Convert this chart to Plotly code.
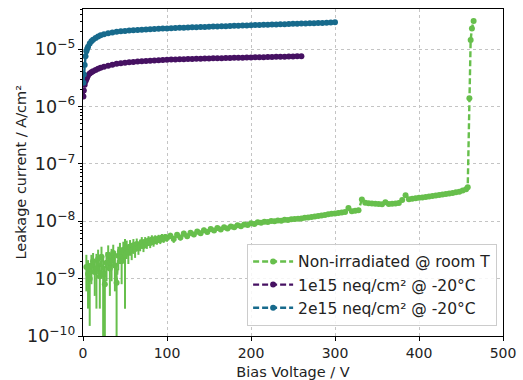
import plotly.graph_objects as go

# ---------------- data ----------------
# Non-irradiated @ room T
green_v = [4, 6, 8, 10, 12, 14, 16, 18, 20, 22, 24, 26, 28, 30, 32, 34, 36, 38, 40, 42,
           44, 46, 48, 50, 52, 54, 56, 58, 60, 62, 64, 66, 68, 70, 72, 74, 76, 78, 80, 82,
           84, 86, 88, 90, 92, 94, 96, 98, 100,
           104, 108, 112, 116, 120, 124, 128, 132, 136, 140, 144, 148, 152, 156, 160, 164,
           168, 172, 176, 180, 184, 188, 192, 196, 200, 204, 208, 212, 216, 220, 224, 228,
           232, 236, 240, 244, 248, 252, 256, 260, 264, 268, 272, 276, 280, 284, 288, 292,
           296, 300, 304, 308, 312, 316, 320, 324, 328, 332, 336, 340, 344, 348, 352, 356,
           360, 364, 368, 372, 376, 380, 384, 388, 392, 396, 400, 404, 408, 412, 416, 420,
           424, 428, 432, 436, 440, 444, 448, 452, 456, 458, 460, 461.5, 463, 465]
green_i = [1.6e-9, 1.2e-9, 1.0e-9, 1.7e-9, 2.0e-9, 1.3e-9, 1.5e-9, 2.2e-9, 1.1e-9, 2.4e-9,
           1.2e-9, 0.8e-9, 1.9e-9, 2.6e-9, 1.5e-9, 2.1e-9, 2.8e-9, 1.7e-9, 0.85e-9, 2.5e-9,
           3.0e-9, 2.0e-9, 3.2e-9, 2.6e-9, 3.4e-9, 2.9e-9, 3.6e-9, 3.1e-9, 3.8e-9, 3.3e-9,
           4.0e-9, 3.5e-9, 3.9e-9, 4.3e-9, 3.7e-9, 4.4e-9, 4.1e-9, 4.6e-9, 4.2e-9, 4.8e-9,
           4.4e-9, 4.9e-9, 4.6e-9, 5.0e-9, 4.7e-9, 5.2e-9, 4.9e-9, 5.3e-9, 5.1e-9,
           5.6e-9, 4.9e-9, 5.8e-9, 5.2e-9, 6.1e-9, 5.5e-9, 6.3e-9, 5.9e-9, 6.6e-9, 6.2e-9,
           7.0e-9, 6.5e-9, 7.3e-9, 6.9e-9, 7.6e-9, 7.2e-9, 7.9e-9, 7.5e-9, 8.1e-9, 7.9e-9,
           8.5e-9, 8.2e-9, 8.8e-9, 8.6e-9, 9.2e-9, 9.0e-9, 9.6e-9, 9.4e-9, 9.8e-9, 9.7e-9,
           10.1e-9, 10.0e-9, 10.3e-9, 10.2e-9, 10.6e-9, 10.5e-9, 10.8e-9, 10.9e-9, 11.1e-9,
           11.2e-9, 11.5e-9, 11.6e-9, 11.9e-9, 12.1e-9, 12.4e-9, 12.6e-9, 12.9e-9, 13.2e-9,
           13.5e-9, 13.7e-9, 14.0e-9, 14.2e-9, 14.5e-9, 17.0e-9, 14.9e-9, 15.2e-9, 15.5e-9,
           24.0e-9, 21.0e-9, 20.6e-9, 20.3e-9, 20.1e-9, 19.9e-9, 19.7e-9, 21.5e-9, 19.9e-9,
           20.2e-9, 20.5e-9, 20.9e-9, 23.5e-9, 28.5e-9, 24.3e-9, 24.8e-9, 25.2e-9, 25.6e-9,
           26.0e-9, 26.5e-9, 26.9e-9, 27.5e-9, 28.0e-9, 28.6e-9, 29.2e-9, 29.8e-9, 30.5e-9,
           31.2e-9, 32.0e-9, 32.8e-9, 34.5e-9, 36.0e-9, 39.0e-9, 1.4e-6, 1.45e-5, 2.3e-5, 3.1e-5]
green_err = [1.0e-9, 0.9e-9, 0.85e-9, 0.9e-9, 0.8e-9, 0.8e-9, 1.2e-9, 1.0e-9, 0.8e-9, 1.2e-9,
             1.3e-9, 0.9e-9, 1.0e-9, 1.2e-9, 1.0e-9, 1.2e-9, 1.1e-9, 1.1e-9, 0.9e-9, 1.1e-9,
             1.2e-9, 1.2e-9, 1.2e-9, 2.3e-9, 1.2e-9, 1.1e-9, 1.1e-9, 1.0e-9, 1.1e-9, 1.0e-9,
             1.0e-9, 0.9e-9, 0.9e-9, 1.0e-9, 0.8e-9, 0.9e-9, 0.8e-9, 0.9e-9, 0.8e-9, 0.9e-9,
             0.8e-9, 0.8e-9, 0.7e-9, 0.8e-9, 0.7e-9, 0.8e-9, 0.7e-9, 0.7e-9, 0.7e-9,
             0.7e-9, 0.7e-9, 0.7e-9, 0.6e-9, 0.7e-9, 0.6e-9, 0.7e-9, 0.6e-9, 0.7e-9, 0.6e-9,
             0.7e-9, 0.6e-9, 0.7e-9, 0.6e-9, 0.7e-9, 0.6e-9, 0.7e-9, 0.6e-9, 0.7e-9, 0.6e-9,
             0.7e-9, 0.6e-9, 0.7e-9, 0.6e-9, 0.7e-9, 0.6e-9, 0.7e-9, 0.6e-9, 0.7e-9, 0.6e-9,
             0.7e-9, 0.6e-9, 0.7e-9, 0.6e-9, 0.7e-9, 0.6e-9, 0.7e-9, 0.7e-9, 0.7e-9,
             0.7e-9, 0.7e-9, 0.7e-9, 0.8e-9, 0.8e-9, 0.8e-9, 0.8e-9, 0.8e-9, 0.8e-9,
             0.9e-9, 0.9e-9, 0.9e-9, 0.9e-9, 0.9e-9, 1.0e-9, 0.9e-9, 0.9e-9, 0.9e-9,
             1.2e-9, 1.1e-9, 1.1e-9, 1.1e-9, 1.1e-9, 1.1e-9, 1.1e-9, 1.2e-9, 1.1e-9,
             1.1e-9, 1.1e-9, 1.2e-9, 1.3e-9, 1.5e-9, 1.3e-9, 1.3e-9, 1.3e-9, 1.3e-9,
             1.3e-9, 1.4e-9, 1.4e-9, 1.4e-9, 1.4e-9, 1.5e-9, 1.5e-9, 1.5e-9, 1.6e-9,
             1.6e-9, 1.6e-9, 1.7e-9, 1.7e-9, 1.8e-9, 2.0e-9, 5.0e-8, 6.0e-7, 1.0e-6, 1.2e-6]

# 1e15 neq/cm² @ -20°C
purple_v = [0.5, 1, 2, 3, 4, 5, 6, 8, 10, 12, 15, 18, 21, 25, 30, 35, 40, 45, 50, 55, 60,
            65, 70, 75, 80, 85, 90, 95, 100, 105, 110, 115, 120, 125, 130, 135, 140, 145,
            150, 155, 160, 165, 170, 175, 180, 185, 190, 195, 200, 205, 210, 215, 220, 225,
            230, 235, 240, 245, 250, 255, 260]
purple_i = [1.5e-6, 1.9e-6, 2.4e-6, 2.75e-6, 3.0e-6, 3.25e-6, 3.5e-6, 3.75e-6, 3.95e-6,
            4.1e-6, 4.35e-6, 4.55e-6, 4.75e-6, 4.95e-6, 5.15e-6, 5.35e-6, 5.55e-6, 5.7e-6,
            5.82e-6, 5.92e-6, 6.0e-6, 6.08e-6, 6.15e-6, 6.22e-6, 6.28e-6, 6.34e-6, 6.4e-6,
            6.46e-6, 6.52e-6, 6.57e-6, 6.62e-6, 6.67e-6, 6.7e-6, 6.73e-6, 6.76e-6, 6.79e-6,
            6.82e-6, 6.85e-6, 6.88e-6, 6.91e-6, 6.93e-6, 6.96e-6, 6.99e-6, 7.02e-6, 7.05e-6,
            7.08e-6, 7.11e-6, 7.14e-6, 7.17e-6, 7.2e-6, 7.22e-6, 7.25e-6, 7.28e-6, 7.31e-6,
            7.34e-6, 7.37e-6, 7.4e-6, 7.43e-6, 7.46e-6, 7.49e-6, 7.52e-6]

# 2e15 neq/cm² @ -20°C
blue_v = [0.5, 1, 2, 3, 4, 5, 6, 8, 10, 12, 15, 18, 21, 25, 30, 35, 40, 45, 50, 55, 60,
          65, 70, 75, 80, 85, 90, 95, 100, 105, 110, 115, 120, 125, 130, 135, 140, 145,
          150, 155, 160, 165, 170, 175, 180, 185, 190, 195, 200, 205, 210, 215, 220, 225,
          230, 235, 240, 245, 250, 255, 260, 265, 270, 275, 280, 285, 290, 295, 300]
blue_i = [2.6e-6, 3.6e-6, 5.3e-6, 7.5e-6, 9.2e-6, 1.02e-5, 1.1e-5, 1.25e-5, 1.37e-5,
          1.46e-5, 1.57e-5, 1.66e-5, 1.74e-5, 1.82e-5, 1.9e-5, 1.96e-5, 2.01e-5, 2.05e-5,
          2.08e-5, 2.11e-5, 2.14e-5, 2.16e-5, 2.18e-5, 2.2e-5, 2.22e-5, 2.24e-5, 2.26e-5,
          2.28e-5, 2.3e-5, 2.32e-5, 2.34e-5, 2.36e-5, 2.37e-5, 2.385e-5, 2.4e-5, 2.415e-5,
          2.43e-5, 2.445e-5, 2.46e-5, 2.475e-5, 2.49e-5, 2.505e-5, 2.52e-5, 2.535e-5,
          2.55e-5, 2.565e-5, 2.58e-5, 2.595e-5, 2.61e-5, 2.625e-5, 2.64e-5, 2.655e-5,
          2.67e-5, 2.685e-5, 2.7e-5, 2.715e-5, 2.73e-5, 2.745e-5, 2.76e-5, 2.775e-5,
          2.79e-5, 2.805e-5, 2.82e-5, 2.835e-5, 2.85e-5, 2.87e-5, 2.89e-5, 2.91e-5, 2.93e-5]

series_names = ["Non-irradiated @ room T", "1e15 neq/cm² @ -20°C", "2e15 neq/cm² @ -20°C"]
series_colors = ["#67bf4c", "#461162", "#176a8c"]

x_ticks = [0, 100, 200, 300, 400, 500]
x_title = "Bias Voltage / V"
y_title = "Leakage current / A/cm²"

# ---------------- figure ----------------
FONT = "DejaVu Sans"
TXT = "#222222"
fig = go.Figure()

fig.add_trace(go.Scatter(
    x=green_v, y=green_i, name=series_names[0], mode="lines+markers",
    line=dict(color=series_colors[0], width=2.4, dash="6px,3px"),
    marker=dict(color=series_colors[0], size=6),
    error_y=dict(type="data", array=green_err, arrayminus=green_err,
                 color=series_colors[0], thickness=2, width=0),
))
fig.add_trace(go.Scatter(
    x=purple_v, y=purple_i, name=series_names[1], mode="lines+markers",
    line=dict(color=series_colors[1], width=2.4, dash="6px,3px"),
    marker=dict(color=series_colors[1], size=6),
))
fig.add_trace(go.Scatter(
    x=blue_v, y=blue_i, name=series_names[2], mode="lines+markers",
    line=dict(color=series_colors[2], width=2.4, dash="6px,3px"),
    marker=dict(color=series_colors[2], size=6),
))

axis_common = dict(
    showline=True, linecolor="black", linewidth=1, mirror=True,
    ticks="outside", ticklen=4, tickcolor="black", automargin=False,
    showgrid=True, gridcolor="#c4c4c4", griddash="dot", gridwidth=1,
    zeroline=False, tickfont=dict(family=FONT, size=14, color=TXT),
)

fig.update_xaxes(range=[0, 500], tickvals=x_ticks,
                 title=dict(text=x_title, font=dict(family=FONT, size=14.5, color=TXT)),
                 **axis_common)
fig.update_yaxes(type="log", range=[-10, -4.30], dtick=1, exponentformat="power",
                 minor=dict(ticks="outside", ticklen=2, tickcolor="black", showgrid=False,
                            dtick="D1"),
                 **axis_common)

fig.add_annotation(text=y_title, xref="paper", yref="paper", x=-0.15, y=0.5,
                   xanchor="center", yanchor="middle", textangle=-90, showarrow=False,
                   font=dict(family=FONT, size=14.5, color=TXT))

fig.update_layout(
    width=523, height=380,
    margin=dict(l=83, r=20, t=9, b=44),
    paper_bgcolor="white", plot_bgcolor="white",
    font=dict(family=FONT, size=14, color=TXT),
    showlegend=True,
    legend=dict(x=0.986, y=0.031, xanchor="right", yanchor="bottom",
                bgcolor="rgba(255,255,255,0.85)", bordercolor="#cccccc", borderwidth=1,
                itemwidth=40,
                font=dict(family=FONT, size=15.5, color=TXT), tracegroupgap=0),
)

fig.write_html("out.html", config={"displayModeBar": False},
               post_script="document.body.style.margin='0';document.body.style.padding='0';")
